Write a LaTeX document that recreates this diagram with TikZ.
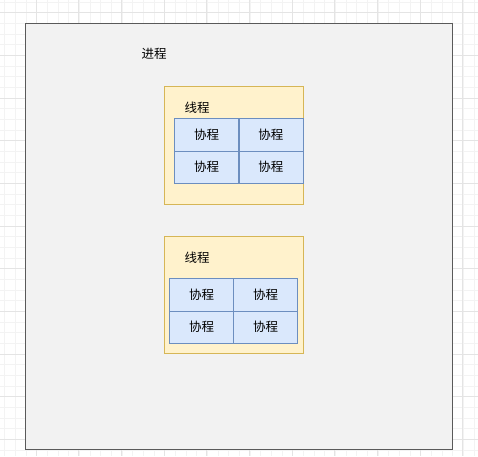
\documentclass[tikz,border=0pt]{standalone}
\usepackage{fontspec}
\newfontfamily\cjk{Noto Sans CJK SC}
\definecolor{gridminor}{HTML}{F3F3F3}
\definecolor{gridmajor}{HTML}{E4E4E4}
\definecolor{procfill}{HTML}{F2F2F2}
\definecolor{procline}{HTML}{5A5A5A}
\definecolor{thrfill}{HTML}{FFF2CC}
\definecolor{thrline}{HTML}{D6B656}
\definecolor{cofill}{HTML}{DAE8FC}
\definecolor{coline}{HTML}{6C8EBF}
\tikzset{
  lbl/.style={font=\cjk\fontsize{12.5}{14}\selectfont, text=black, inner sep=0pt},
  process/.style={draw=procline, fill=procfill, line width=1pt},
  thread/.style={draw=thrline, fill=thrfill, line width=0.8pt},
  coro/.style={draw=coline, fill=cofill, line width=0.8pt, minimum width=64pt, minimum height=32.2pt, inner sep=0pt, font=\cjk\fontsize{12.5}{14}\selectfont, anchor=north west}
}
\begin{document}
\begin{tikzpicture}[x=1pt,y=-1pt]
\useasboundingbox (0,0) rectangle (478,456);
\fill[white] (0,0) rectangle (478,456);
% background grid
\foreach \i in {0,...,45} {
  \draw[gridminor, line width=0.5pt] ({4.7+\i*10.667},0) -- ({4.7+\i*10.667},456);
  \draw[gridminor, line width=0.5pt] (0,{2+\i*10.667}) -- (478,{2+\i*10.667});
}
\foreach \i in {0,...,11} {
  \draw[gridmajor, line width=0.6pt] ({36+\i*42.67-42.67},0) -- ({36+\i*42.67-42.67},456);
  \draw[gridmajor, line width=0.6pt] (0,{12.7+\i*42.67}) -- (478,{12.7+\i*42.67});
}
% process
\node[process, inner sep=0pt, minimum width=427pt, minimum height=426.5pt, anchor=north west] (proc) at (25.3,22.7) {};
\node[lbl] (proclbl) at (154,54) {进程};
% thread 1
\node[thread, inner sep=0pt, minimum width=139pt, minimum height=117.7pt, anchor=north west] (t1) at (163.7,86.3) {};
\node[lbl] (t1lbl) at (197,108) {线程};
\node[coro] (c11) at (174.3,118.3) {协程};
\node[coro] (c12) at (238.5,118.3) {协程};
\node[coro] (c13) at (174.3,150.5) {协程};
\node[coro] (c14) at (238.5,150.5) {协程};
% thread 2
\node[thread, inner sep=0pt, minimum width=139pt, minimum height=117.3pt, anchor=north west] (t2) at (163.7,236) {};
\node[lbl] (t2lbl) at (197,258) {线程};
\node[coro] (c21) at (169.3,278.3) {协程};
\node[coro] (c22) at (233.3,278.3) {协程};
\node[coro] (c23) at (169.3,310.5) {协程};
\node[coro] (c24) at (233.3,310.5) {协程};
\end{tikzpicture}
\end{document}
